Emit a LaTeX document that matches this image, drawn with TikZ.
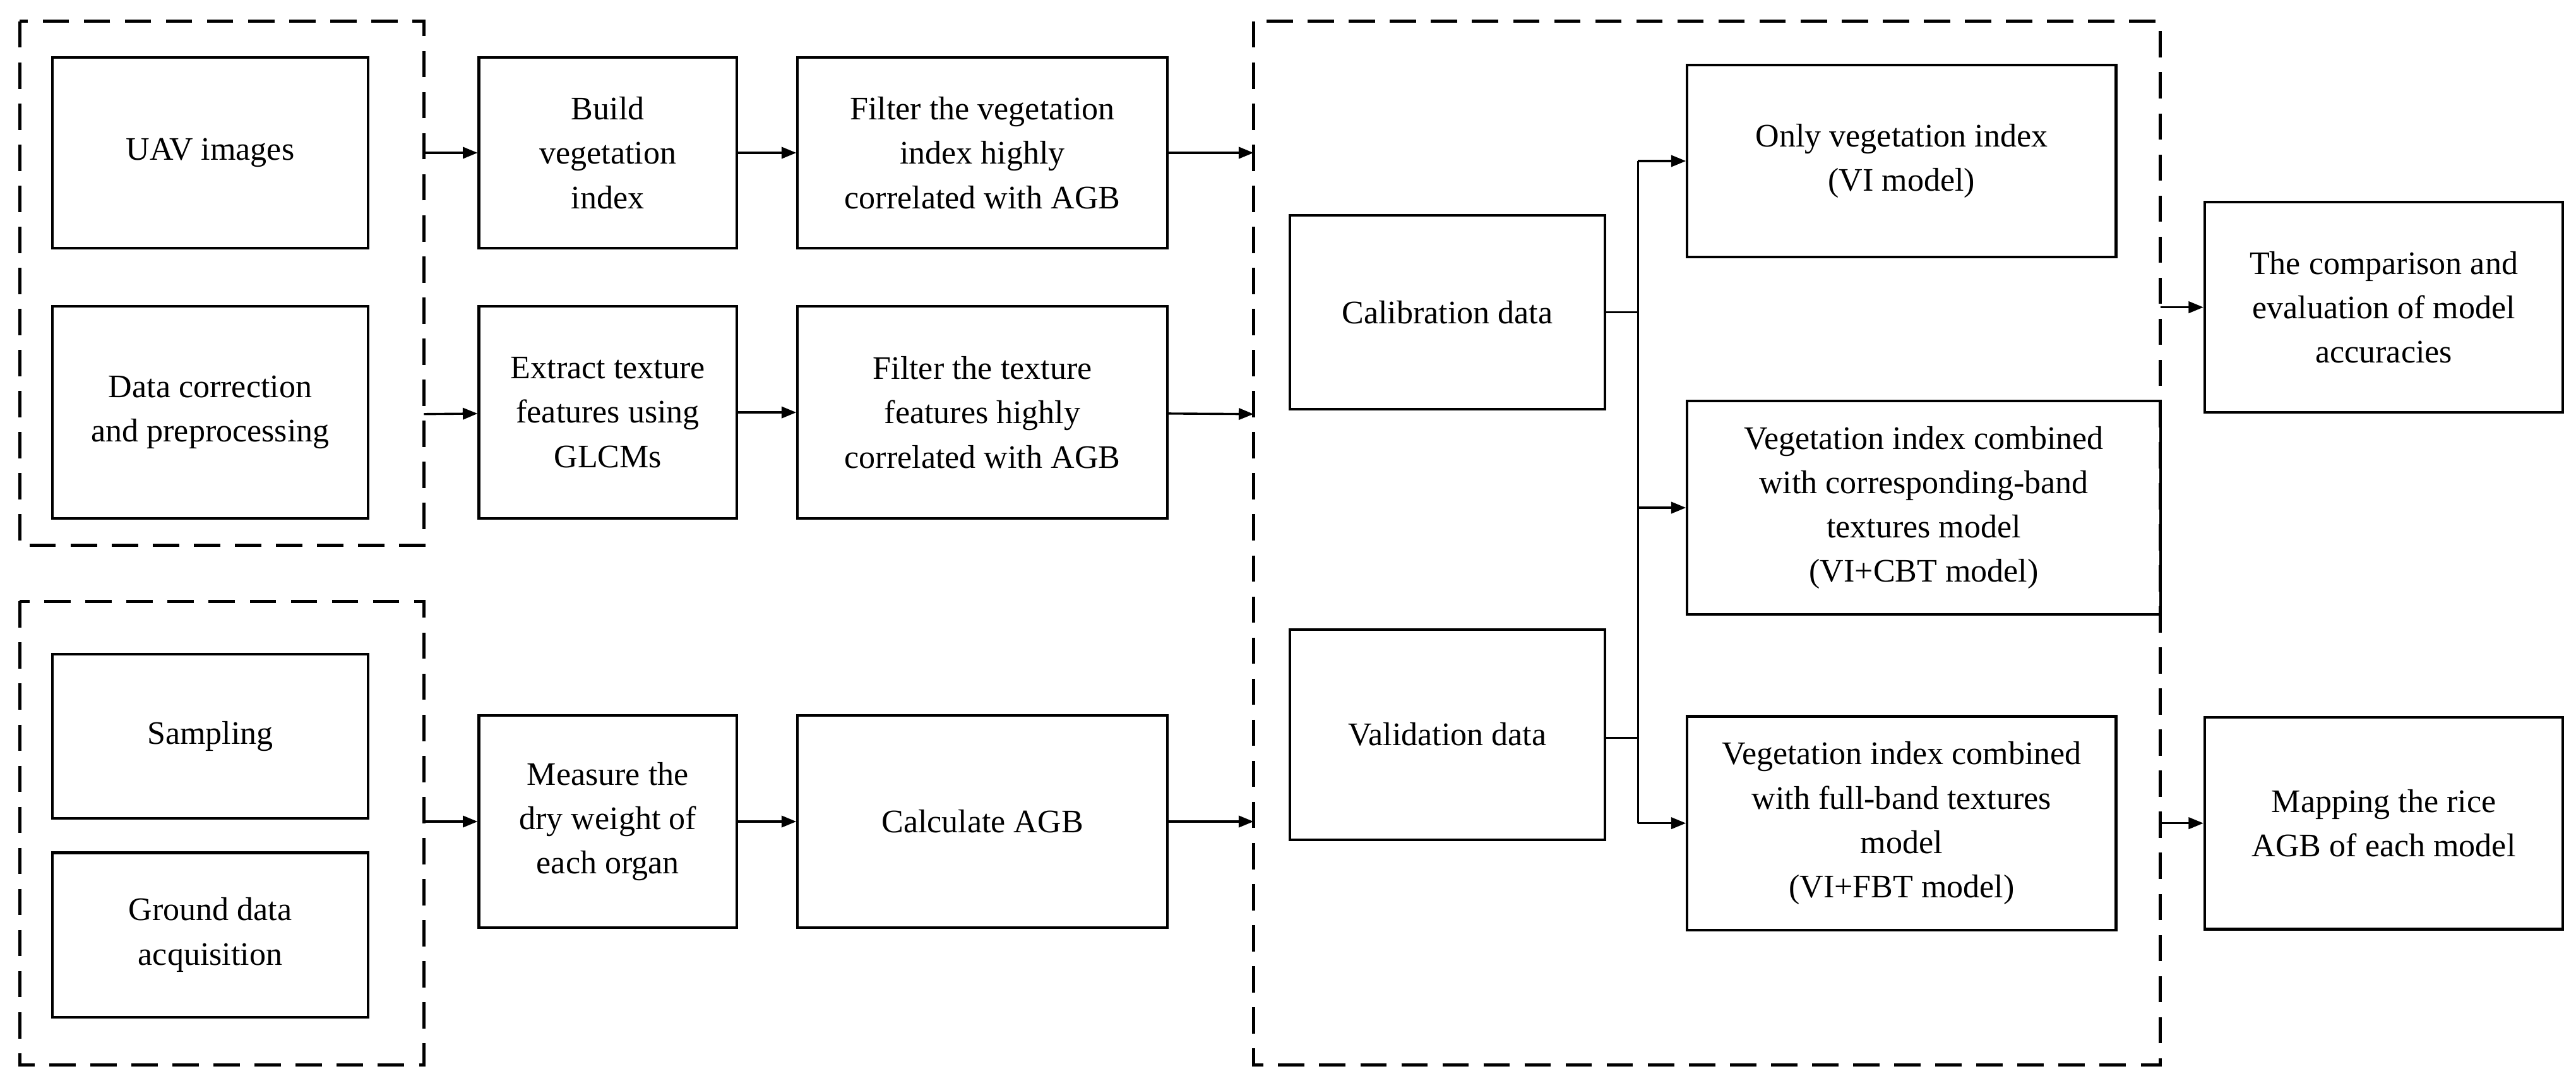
\documentclass[tikz,border=0pt]{standalone}
\usepackage{fontspec}
\setmainfont{Liberation Serif}
\usetikzlibrary{arrows.meta}

\begin{document}
\begin{tikzpicture}[x=1pt,y=-1pt,
        box/.style={draw,line width=1.6pt,align=center,font=\fontsize{20}{27}\selectfont},
        group/.style={line width=2pt,dash pattern=on 16pt off 9pt},
        flow/.style={line width=1.3pt,-{Triangle[length=9pt,width=7pt]}}]
        \useasboundingbox (0,0) rectangle (1568,662);
        % dashed groups
        \draw[group] (12,13) rectangle (258,332);
        \draw[group] (12,366) rectangle (258,648);
        \draw[group] (763,13) rectangle (1315,648);
        % input boxes
        \node[box,minimum width=192pt,minimum height=116pt] (uav) at (128,93) {UAV images};
        \node[box,minimum width=192pt,minimum height=129pt] (corr) at (128,251) {Data correction\\and preprocessing};
        \node[box,minimum width=192pt,minimum height=100pt] (samp) at (128,448) {Sampling};
        \node[box,minimum width=192pt,minimum height=100pt] (ground) at (128,569) {Ground data\\acquisition};
        % processing
        \node[box,minimum width=157pt,minimum height=116pt] (build) at (370,93) {Build\\vegetation\\index};
        \node[box,minimum width=157pt,minimum height=129pt] (extract) at (370,251) {Extract texture\\features using\\GLCMs};
        \node[box,minimum width=157pt,minimum height=129pt] (measure) at (370,500) {Measure the\\dry weight of\\each organ};
        \node[box,minimum width=225pt,minimum height=116pt] (filtvi) at (598,93) {Filter the vegetation\\index highly\\correlated with AGB};
        \node[box,minimum width=225pt,minimum height=129pt] (filttx) at (598,251) {Filter the texture\\features highly\\correlated with AGB};
        \node[box,minimum width=225pt,minimum height=129pt] (calc) at (598,500) {Calculate AGB};
        % data and models
        \node[box,minimum width=192pt,minimum height=118pt] (cal) at (881,190) {Calibration data};
        \node[box,minimum width=192pt,minimum height=128pt] (val) at (881,447) {Validation data};
        \node[box,minimum width=261pt,minimum height=117pt] (vi) at (1157.5,98) {Only vegetation index\\(VI model)};
        \node[box,minimum width=288pt,minimum height=130pt] (cbt) at (1171,309) {Vegetation index combined\\with corresponding-band\\textures model\\(VI+CBT model)};
        \node[box,minimum width=261pt,minimum height=130pt] (fbt) at (1157.5,501) {Vegetation index combined\\with full-band textures\\model\\(VI+FBT model)};
        \node[box,minimum width=218pt,minimum height=128pt] (comp) at (1451,187) {The comparison and\\evaluation of model\\accuracies};
        \node[box,minimum width=218pt,minimum height=129pt] (map) at (1451,501) {Mapping the rice\\AGB of each model};
        % free ends on the dashed groups
        \coordinate (g1a) at (258,93);
        \coordinate (g1b) at (258,252);
        \coordinate (g2) at (258,500);
        \coordinate (g3a) at (763,93);
        \coordinate (g3b) at (763,252);
        \coordinate (g3c) at (763,500);
        \coordinate (g3r1) at (1315,187);
        \coordinate (g3r2) at (1315,501);
        \coordinate (split) at (997,190);
        \coordinate (splitv) at (997,449);
        \coordinate (top) at (997,98);
        \coordinate (mid) at (997,309);
        \coordinate (bot) at (997,501);
        \draw[flow] (g1a) -- (build);
        \draw[flow] (g1b) -- (extract);
        \draw[flow] (g2) -- (measure);
        \draw[flow] (build) -- (filtvi);
        \draw[flow] (extract) -- (filttx);
        \draw[flow] (measure) -- (calc);
        \draw[flow] (filtvi) -- (g3a);
        \draw[flow] (filttx) -- (g3b);
        \draw[flow] (calc) -- (g3c);
        \draw[line width=1.3pt] (cal.east |- split) -- (split);
        \draw[line width=1.3pt] (val.east |- splitv) -- (splitv);
        \draw[line width=1.3pt] (top) -- (bot);
        \draw[flow] (top) -- (vi);
        \draw[flow] (mid) -- (cbt);
        \draw[flow] (bot) -- (fbt);
        \draw[flow] (g3r1) -- (comp);
        \draw[flow] (g3r2) -- (map);
\end{tikzpicture}
\end{document}
